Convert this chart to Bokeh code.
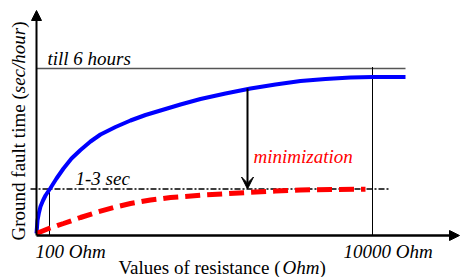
from bokeh.plotting import figure
from bokeh.models import Range1d, Label, Arrow, NormalHead, VeeHead
from bokeh.embed import file_html
from bokeh.resources import INLINE
import math

# ---- data (schematic units: resistance axis 0..424, time axis 0..225) ----
resistance = [0, 1, 2.5, 4, 6.5, 9, 14, 20, 27, 35, 44, 54, 64, 79, 94, 109, 124,
              144, 164, 189, 214, 239, 264, 289, 314, 336, 369]
time_without_min = [2, 15, 23, 29, 35, 40, 47.5, 57, 67, 77, 85.5, 94, 101, 108.5, 115, 120.5, 125,
                    131, 136.5, 142, 147, 151, 154.5, 156.5, 158, 158.5, 158.5]

resistance_min = [0, 11, 27, 44, 61, 79, 94, 114, 134, 167, 211, 239, 264, 294, 329]
time_with_min = [2, 6.5, 12, 18, 23.5, 28.5, 32, 35.5, 38, 40.5, 43, 44.5, 45.5, 46, 46.2]

level_6_hours = 167
level_1_3_sec = 46.5
r_100_ohm = 13
r_10000_ohm = 336
r_arrow = 211
arrow_top = 147
x_axis_end = 423
y_axis_end = 225
level_line_end = 369
dashdot_start = -6
dashdot_end = 354

tick_labels = ["100 Ohm", "10000 Ohm"]

FONT = "Liberation Serif, Times New Roman, serif"
FS = "19px"
MID = 6.4  # distance from baseline to text middle

p = figure(width=460, height=277, x_range=Range1d(-36, 424), y_range=Range1d(-42, 235),
           toolbar_location=None, output_backend="svg", x_axis_type=None, y_axis_type=None,
           min_border=0, min_border_left=0, min_border_right=0, min_border_top=0, min_border_bottom=0)
p.styles = {"position": "absolute", "left": "0px", "top": "0px"}
p.outline_line_color = None
p.xgrid.visible = False
p.ygrid.visible = False
p.background_fill_color = "white"
p.border_fill_color = "white"

# reference levels
p.line([0, level_line_end], [level_6_hours, level_6_hours], line_color="#555555", line_width=1.5)
p.line([dashdot_start, dashdot_end], [level_1_3_sec, level_1_3_sec], line_color="black",
       line_width=1.6, line_dash="6 2 2 2")
p.line([r_100_ohm, r_100_ohm], [0, level_1_3_sec], line_color="black", line_width=1)
p.line([r_10000_ohm, r_10000_ohm], [0, level_6_hours + 1.5], line_color="black", line_width=1)

# curves
p.line(resistance, time_without_min, line_color="#0000ff", line_width=4)
p.line(resistance_min, time_with_min, line_color="#ff0000", line_width=5, line_dash="15 7")

# axes with arrows
p.add_layout(Arrow(end=NormalHead(size=10, fill_color="black", line_color="black"),
                   x_start=0, y_start=0, x_end=0, y_end=y_axis_end, line_width=2, line_color="black"))
p.add_layout(Arrow(end=NormalHead(size=10, fill_color="black", line_color="black"),
                   x_start=0, y_start=0, x_end=x_axis_end, y_end=0, line_width=2.5, line_color="black"))

# minimization arrow
p.add_layout(Arrow(end=VeeHead(size=12, fill_color="black", line_color="black"),
                   x_start=r_arrow, y_start=arrow_top, x_end=r_arrow, y_end=level_1_3_sec,
                   line_width=2, line_color="black"))

def lab(x, y, text, style="italic", color="black", angle=0):
    p.add_layout(Label(x=x, y=y, text=text, text_font=FONT, text_font_size=FS,
                       text_font_style=style, text_color=color, text_align="left",
                       text_baseline="middle", angle=angle))

# y values below are baselines; MID shifts to the text middle
lab(11, level_6_hours + 4 + MID, "till 6 hours")
lab(39, level_1_3_sec + 4.5 + MID, "1-3 sec")
lab(217, 73 + MID, "minimization", color="#ff0000")
lab(-1, -22 + MID, tick_labels[0])
lab(307, -22 + MID, tick_labels[1])

# x-axis title with italic unit
em = 19.0
x0 = 82
yb = -38 + MID
lab(x0, yb, "Values of resistance (", style="normal")
x1 = x0 + 8.636 * em
lab(x1, yb, "Ohm")
lab(x1 + 1.944 * em, yb, ")", style="normal")

# y-axis title (rotated) with italic unit
xb = -12 - MID
y0 = -5
lab(xb, y0, "Ground fault time (", style="normal", angle=math.pi / 2)
y1 = y0 + 7.749 * em
lab(xb, y1, "sec/hour", angle=math.pi / 2)
lab(xb, y1 + 3.444 * em, ")", style="normal", angle=math.pi / 2)

open("out.html", "w").write(file_html(p, INLINE))
